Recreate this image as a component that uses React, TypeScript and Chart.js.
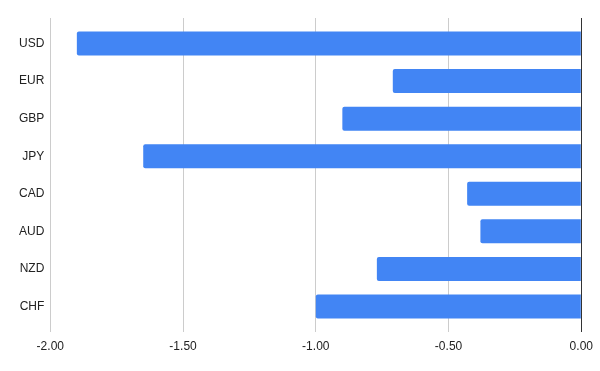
import React, { useEffect, useRef } from "react";
import { Chart, registerables } from "chart.js";

Chart.register(...registerables);

const categories = ["USD", "EUR", "GBP", "JPY", "CAD", "AUD", "NZD", "CHF"];
const values = [-1.9, -0.71, -0.9, -1.65, -0.43, -0.38, -0.77, -1.0];
const xTicks = [-2, -1.5, -1, -0.5, 0];

const FONT = "Arial, 'Liberation Sans', sans-serif";

const zeroLine = {
  id: "zeroLine",
  afterDatasetsDraw(chart: any) {
    const { ctx, chartArea, scales } = chart;
    const x = Math.round(scales.x.getPixelForValue(0)) + 0.5;
    ctx.save();
    ctx.strokeStyle = "#333333";
    ctx.lineWidth = 1;
    ctx.beginPath();
    ctx.moveTo(x, chartArea.top);
    ctx.lineTo(x, chartArea.bottom);
    ctx.stroke();
    ctx.restore();
  },
};

export default function App() {
  const ref = useRef<HTMLCanvasElement | null>(null);
  useEffect(() => {
    if (!ref.current) return;
    const chart = new Chart(ref.current, {
      type: "bar",
      data: {
        datasets: [
          {
            data: values.map((v, i) => ({ x: v, y: i })),
            backgroundColor: "#4285F4",
            borderRadius: 2,
            barPercentage: 0.8,
            categoryPercentage: 0.8,
          },
        ],
      },
      options: {
        indexAxis: "y",
        animation: false,
        responsive: false,
        maintainAspectRatio: false,
        layout: { padding: { top: 18, right: 18.7, left: 0, bottom: 0 } },
        plugins: { legend: { display: false }, tooltip: { enabled: false } },
        scales: {
          x: {
            type: "linear",
            min: -2,
            max: 0,
            afterBuildTicks: (scale: any) => {
              scale.ticks = xTicks.map((v) => ({ value: v }));
            },
            afterFit: (scale: any) => {
              scale.height = 39;
            },
            ticks: {
              padding: 7,
              color: "#222222",
              font: { family: FONT, size: 12 },
              callback: (v: any) => Number(v).toFixed(2),
              maxRotation: 0,
            },
            grid: { color: "#cccccc", drawTicks: false },
            border: { display: false },
          },
          y: {
            type: "linear",
            reverse: true,
            offset: false,
            min: -0.68,
            max: 7.68,
            afterBuildTicks: (scale: any) => {
              scale.ticks = categories.map((_, i) => ({ value: i }));
            },
            afterFit: (scale: any) => {
              scale.width = 50.3;
            },
            ticks: {
              padding: 6,
              color: "#222222",
              font: { family: FONT, size: 12 },
              callback: (v: any) => categories[Math.round(Number(v))] ?? "",
            },
            grid: { display: false, drawTicks: false },
            border: { display: false },
          },
        },
      },
      plugins: [zeroLine],
    } as any);
    return () => chart.destroy();
  }, []);
  return (
    <div style={{ position: "fixed", left: 0, top: 0, width: 600, height: 371, background: "#fff" }}>
      <canvas ref={ref} width={600} height={371} style={{ width: 600, height: 371 }} />
    </div>
  );
}
